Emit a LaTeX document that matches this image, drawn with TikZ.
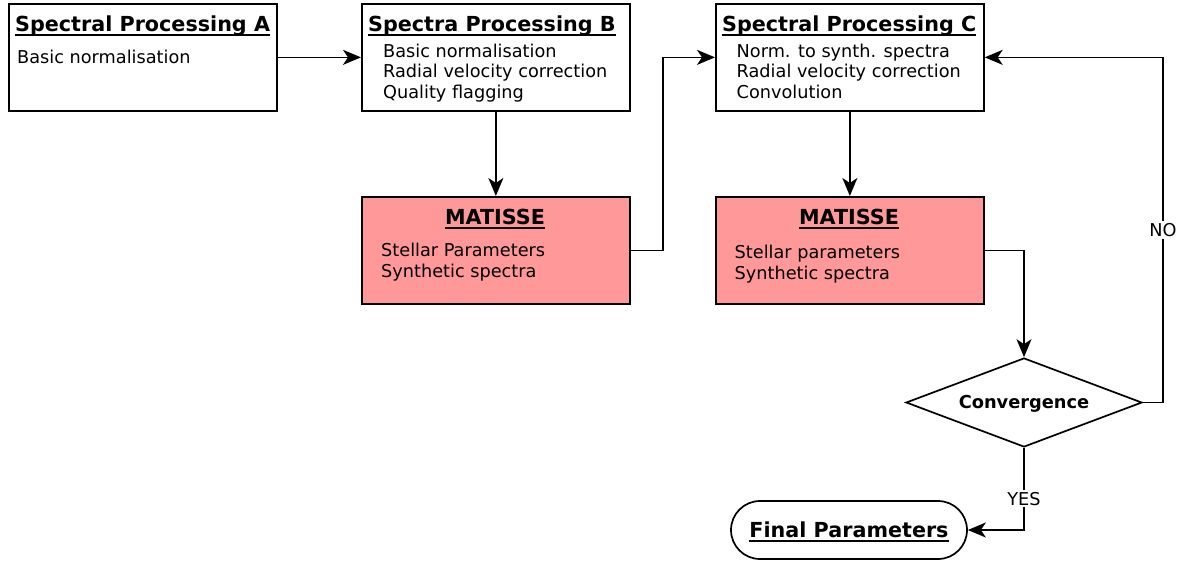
\documentclass[tikz,border=0pt]{standalone}
\usepackage{fontspec}
\setmainfont{DejaVu Sans}
\usetikzlibrary{arrows.meta,shapes.geometric,calc}
\definecolor{matfill}{HTML}{FF9999}
\tikzset{
  box/.style={draw=black, line width=1.7pt, minimum width=268pt, minimum height=107pt, inner sep=0pt, anchor=north west},
  matbox/.style={box, fill=matfill},
  ttl/.style={font=\fontsize{20.7}{24}\selectfont\bfseries, inner sep=0pt, anchor=base west},
  txt/.style={font=\fontsize{17.7}{20.5}\selectfont, inner sep=0pt, anchor=base west},
  conn/.style={line width=1.7pt, -{Stealth[length=18pt,width=15pt,inset=5pt]}},
  ul/.style={line width=2pt},
  lbl/.style={font=\fontsize{17.7}{20.5}\selectfont, fill=white, inner sep=2pt},
}
\begin{document}
\begin{tikzpicture}[x=1pt,y=-1pt]
\useasboundingbox (0,0) rectangle (1180,563);
% boxes
\node[box] (A) at (8,3) {};
\node[box] (B) at (361,3) {};
\node[box] (C) at (715,3) {};
\node[matbox] (M1) at (361,196) {};
\node[matbox] (M2) at (715,196) {};
\node[draw=black, line width=1.7pt, diamond, minimum width=236pt, minimum height=89pt, inner sep=0pt] (dia) at (1024,402.5) {};
\node[draw=black, line width=1.7pt, rectangle, rounded corners=29pt, minimum width=236pt, minimum height=58pt, inner sep=0pt] (fin) at (849,530) {};
% titles
\node[ttl] (tA) at (15,31) {Spectral Processing A};
\draw[ul] ($(tA.base west)+(0,3.5)$) -- ($(tA.base east)+(0,3.5)$);
\node[ttl] (tB) at (368,31) {Spectra Processing B};
\draw[ul] ($(tB.base west)+(0,3.5)$) -- ($(tB.base east)+(0,3.5)$);
\node[ttl] (tC) at (722,31) {Spectral Processing C};
\draw[ul] ($(tC.base west)+(0,3.5)$) -- ($(tC.base east)+(0,3.5)$);
\node[ttl, anchor=base] (tM1) at (495,224) {MATISSE};
\draw[ul] ($(tM1.base west)+(0,4)$) -- ($(tM1.base east)+(0,4)$);
\node[ttl, anchor=base] (tM2) at (849,224) {MATISSE};
\draw[ul] ($(tM2.base west)+(0,4)$) -- ($(tM2.base east)+(0,4)$);
\node[ttl, anchor=base] (tF) at (849,537.5) {Final Parameters};
\draw[ul] ($(tF.base west)+(0,3.5)$) -- ($(tF.base east)+(0,3.5)$);
\node[ttl, anchor=base, font=\fontsize{17.8}{20}\selectfont\bfseries] (tD) at (1024,408) {Convergence};
% body texts
\node[txt] (a1) at (17,63.5) {Basic normalisation};
\node[txt] (b1) at (383,57) {Basic normalisation};
\node[txt] (b2) at (383,77.5) {Radial velocity correction};
\node[txt] (b3) at (383,98) {Quality flagging};
\node[txt] (c1) at (736.5,57) {Norm. to synth. spectra};
\node[txt] (c2) at (736.5,77.5) {Radial velocity correction};
\node[txt] (c3) at (736.5,98) {Convolution};
\node[txt] (m11) at (381,256.5) {Stellar Parameters};
\node[txt] (m12) at (381,277.5) {Synthetic spectra};
\node[txt] (m21) at (734.5,258.5) {Stellar parameters};
\node[txt] (m22) at (734.5,279.5) {Synthetic spectra};
% connectors
\draw[conn] (A.east) -- (B.west);
\draw[conn] (B.south) -- (M1.north);
\draw[conn] (M1.east) -- ++(32,0) |- (C.west);
\draw[conn] (C.south) -- (M2.north);
\draw[conn] (M2.east) -| (dia.north);
\draw[conn] (dia.east) -- ++(20,0) |- node[lbl,pos=0.25] {NO} (C.east);
\draw[conn] (dia.south) |- node[lbl,pos=0.31] {YES} (fin.east);
\end{tikzpicture}
\end{document}
